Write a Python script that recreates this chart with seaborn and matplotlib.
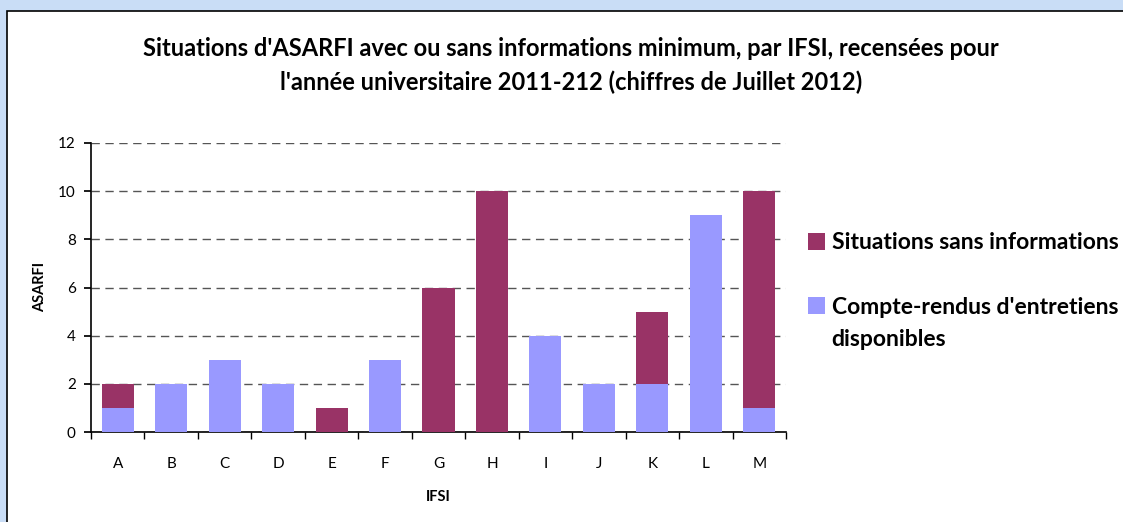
import matplotlib
matplotlib.use("Agg")
import matplotlib.pyplot as plt
import seaborn as sns
import pandas as pd
import numpy as np
from matplotlib.patches import Rectangle

categories = ["A", "B", "C", "D", "E", "F", "G", "H", "I", "J", "K", "L", "M"]
compte_rendus = [1, 2, 3, 2, 0, 3, 0, 0, 4, 2, 2, 9, 1]
sans_infos = [1, 0, 0, 0, 1, 0, 6, 10, 0, 0, 3, 0, 9]
yticks = [0, 2, 4, 6, 8, 10, 12]

sns.set_theme(style="white")
plt.rcParams['font.family'] = ['Lato', 'DejaVu Sans']
plt.rcParams['text.color'] = 'black'
plt.rcParams['axes.labelcolor'] = 'black'
plt.rcParams['xtick.color'] = 'black'
plt.rcParams['ytick.color'] = 'black'

df = pd.DataFrame({"IFSI": categories, "cr": compte_rendus, "si": sans_infos})

fig = plt.figure(figsize=(11.23, 5.22), dpi=100)
fig.patch.set_facecolor("#c9ddf6")
fig.patches.append(Rectangle((7/1123, -0.01), 1.0, 1 - 11/522 + 0.01, transform=fig.transFigure,
                             facecolor="white", edgecolor="black", linewidth=1.2, zorder=-5))

ax = fig.add_axes([91/1123, 1 - 432/522, (786 - 91)/1123, (432 - 143)/522])
ax.set_zorder(2)
ax.set_facecolor("none")

sns.barplot(data=df, x="IFSI", y="cr", color="#9999FF", width=0.6, ax=ax,
            saturation=1, linewidth=0, label="Compte-rendus d'entretiens", zorder=3)
sns.barplot(data=df, x="IFSI", y="si", color="#993366", width=0.6, ax=ax,
            saturation=1, linewidth=0, bottom=df["cr"].values,
            label="Situations sans informations", zorder=3)

ax.set_ylim(0, 12)
ax.set_xlim(-0.5, len(categories) - 0.5)
ax.set_yticks(yticks)
ax.set_yticklabels([str(v) for v in yticks], fontsize=11)
ax.yaxis.grid(True, linestyle=(0, (6, 4)), color="#555555", linewidth=1)
ax.set_axisbelow(True)
for s in ["top", "right"]:
    ax.spines[s].set_visible(False)
for s in ["left", "bottom"]:
    ax.spines[s].set_color("black")
    ax.spines[s].set_linewidth(1.2)

ax.tick_params(axis="y", which="major", direction="out", length=5, left=True, color="black", pad=6)
ax.tick_params(axis="x", which="major", length=0, pad=18, labelsize=11)
ax.set_xticks(np.arange(-0.5, len(categories)), minor=True)
ax.tick_params(axis="x", which="minor", direction="out", length=5, bottom=True, color="black")

ax.set_xlabel("IFSI", fontsize=10.5, fontweight="bold", labelpad=14)
ax.set_ylabel("ASARFI", fontsize=10.5, fontweight="bold", labelpad=8)

fig.text(571/1123, 1 - 48/522,
         "Situations d'ASARFI avec ou sans informations minimum, par IFSI, recensées pour",
         ha="center", va="center", fontsize=17, fontweight="bold")
fig.text(571/1123, 1 - 82/522,
         "l'année universitaire 2011-212 (chiffres de Juillet 2012)",
         ha="center", va="center", fontsize=17, fontweight="bold")

handles, labels = ax.get_legend_handles_labels()
order = [1, 0]
leg = ax.legend([handles[i] for i in order], [labels[i] for i in order],
                loc="upper left", bbox_to_anchor=(799/1123, 1 - 223/522),
                bbox_transform=fig.transFigure, frameon=False,
                prop={"weight": "bold", "size": 16.5}, handlelength=0.75, handleheight=0.75,
                labelspacing=1.9, handletextpad=0.3, borderaxespad=0)
fig.text(831/1123, 1 - 340/522, "disponibles", ha="left", va="center",
         fontsize=16.5, fontweight="bold")

fig.savefig("out.png", dpi=100, facecolor=fig.get_facecolor())
